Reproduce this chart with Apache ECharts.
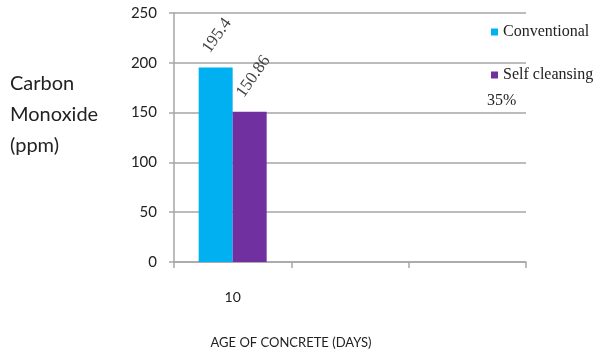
<!DOCTYPE html>
<html>
<head>
<meta charset="utf-8">
<script src="https://cdn.jsdelivr.net/npm/echarts@6/dist/echarts.min.js"></script>
<style>
  html, body { margin: 0; padding: 0; background: #fff; }
  #chart { width: 597px; height: 358px; }
</style>
</head>
<body>
<div id="chart"></div>
<script>
// Age of concrete (days) — only the first slot carries measurements
const categories = ['10', '', ''];
const conventional = [195.4, null, null];
const selfCleansing = [150.86, null, null];
const yTicks = { min: 0, max: 250, interval: 50 };
const seriesNames = ['Conventional', 'Self cleansing 35%'];

const axisGray = '#a6a6a6';
const chart = echarts.init(document.getElementById('chart'));

const barLabel = {
  show: true,
  position: 'top',
  rotate: 55,
  align: 'left',
  verticalAlign: 'middle',
  distance: 2,
  offset: [6, -16],
  fontFamily: 'Liberation Serif',
  fontSize: 17,
  color: '#404040',
  formatter: p => (p.value == null ? '' : String(p.value))
};

chart.setOption({
  animation: false,
  grid: { left: 174, right: 71, top: 13, bottom: 96, containLabel: false },
  legend: {
    orient: 'vertical',
    left: 486,
    top: 19,
    itemWidth: 7,
    itemHeight: 7,
    itemGap: 27,
    icon: 'rect',
    textStyle: { fontFamily: 'Liberation Serif', fontSize: 16, color: '#222' },
    // second entry wraps: its last word sits on its own line below the swatch
    formatter: name => (name === seriesNames[1] ? 'Self cleansing' : name),
    data: seriesNames
  },
  graphic: [
    {
      type: 'text', left: 10, top: 68,
      style: {
        text: 'Carbon\nMonoxide\n(ppm)',
        font: '20px Lato, "Open Sans", sans-serif',
        lineHeight: 31,
        fill: '#222'
      }
    },
    {
      type: 'text', left: 487, top: 93,
      style: {
        text: '35%',
        font: '16px "Liberation Serif", serif',
        fill: '#222'
      }
    },
    {
      type: 'text', x: 291, y: 343,
      style: {
        text: 'AGE OF CONCRETE (DAYS)',
        font: '13px Lato, sans-serif',
        fill: '#222',
        align: 'center',
        verticalAlign: 'middle'
      }
    }
  ],
  xAxis: {
    type: 'category',
    data: categories,
    boundaryGap: true,
    axisLine: { lineStyle: { color: axisGray, width: 1.5 } },
    axisTick: { show: true, length: 6, lineStyle: { color: axisGray, width: 1.5 } },
    axisLabel: { margin: 28, fontFamily: 'Lato', fontSize: 14, color: '#222' }
  },
  yAxis: {
    type: 'value',
    min: yTicks.min,
    max: yTicks.max,
    interval: yTicks.interval,
    axisLine: { show: true, lineStyle: { color: axisGray, width: 1.5 } },
    axisTick: { show: true, length: 5, lineStyle: { color: axisGray, width: 1.5 } },
    splitLine: { lineStyle: { color: axisGray, width: 1.5 } },
    axisLabel: { margin: 17, fontFamily: 'Lato', fontSize: 15, color: '#222' }
  },
  series: [
    {
      name: seriesNames[0],
      type: 'bar',
      data: conventional,
      barWidth: 34,
      barGap: '0%',
      itemStyle: { color: '#00b0f0' },
      label: barLabel
    },
    {
      name: seriesNames[1],
      type: 'bar',
      data: selfCleansing,
      barWidth: 34,
      itemStyle: { color: '#7030a0' },
      label: barLabel
    }
  ]
});
</script>
</body>
</html>
